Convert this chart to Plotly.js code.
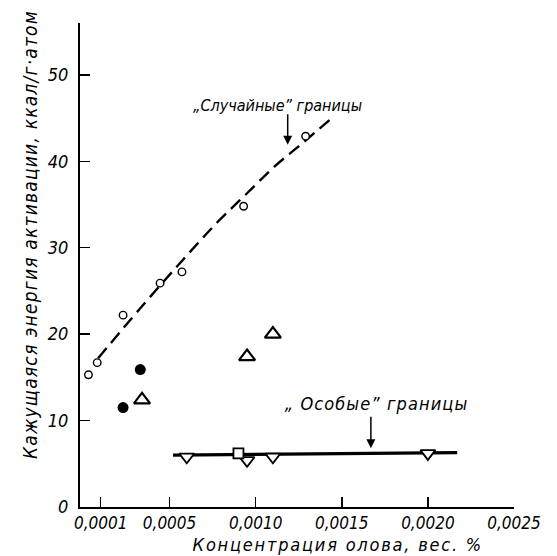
<!DOCTYPE html>
<html>
<head>
<meta charset="utf-8">
<script src="https://cdn.plot.ly/plotly-3.0.1.min.js"></script>
<style>
html,body{margin:0;padding:0;background:#fff;}
#chart{width:557px;height:556px;}
</style>
</head>
<body>
<div id="chart"></div>
<script>
// "Random" boundaries: open circles
const randX = [0.000029, 0.00008, 0.00023, 0.000445, 0.000572, 0.00093, 0.00129];
const randY = [15.3, 16.7, 22.2, 25.9, 27.2, 34.8, 42.9];
// dashed curve
const curveX = [0.000085, 0.00033, 0.00056, 0.00078, 0.00095, 0.00111, 0.00126, 0.00146];
const curveY = [17.2, 23.0, 28.2, 33.0, 36.3, 39.4, 41.9, 45.3];
// filled circles
const filledX = [0.00023, 0.00033];
const filledY = [11.5, 15.9];
// open up-triangles
const triUpX = [0.00034, 0.00095, 0.0011];
const triUpY = [12.4, 17.4, 20.0];
// "Special" boundaries: down-triangles
const triDnX = [0.00060, 0.00095, 0.0011, 0.0020];
const triDnY = [5.8, 5.4, 5.8, 6.2];
// square
const sqX = [0.00090];
const sqY = [6.2];
// solid line
const specLineX = [0.00052, 0.00217];
const specLineY = [6.0, 6.3];

const xTickVals = [0.0001, 0.0005, 0.0010, 0.0015, 0.0020, 0.0025];
const xTickText = ['0,0001', '0,0005', '0,0010', '0,0015', '0,0020', '0,0025'];
const yTickVals = [0, 10, 20, 30, 40, 50];

const FONT = 'DejaVu Sans Condensed, DejaVu Sans, sans-serif';

const traces = [
  {x: curveX, y: curveY, mode: 'lines', line: {color: '#000', width: 2.4, dash: '13px,7px', shape: 'spline', smoothing: 1}},
  {x: specLineX, y: specLineY, mode: 'lines', line: {color: '#000', width: 3.2}},
  {x: randX, y: randY, mode: 'markers', marker: {symbol: 'circle', size: 7.5, color: '#fff', line: {color: '#000', width: 1.4}}},
  {x: filledX, y: filledY, mode: 'markers', marker: {symbol: 'circle', size: 11, color: '#000'}},
  {x: triUpX, y: triUpY, mode: 'markers', marker: {symbol: 'triangle-up', size: 14, color: '#fff', line: {color: '#000', width: 2.2}}},
  {x: triDnX, y: triDnY, mode: 'markers', marker: {symbol: 'triangle-down', size: 13, color: '#fff', line: {color: '#000', width: 1.8}}},
  {x: sqX, y: sqY, mode: 'markers', marker: {symbol: 'square', size: 10, color: '#fff', line: {color: '#000', width: 1.8}}}
];

const layout = {
  width: 557, height: 556,
  margin: {l: 80, r: 43, t: 23, b: 49},
  paper_bgcolor: '#fff', plot_bgcolor: '#fff',
  showlegend: false,
  font: {family: FONT, color: '#000'},
  xaxis: {
    range: [-0.00002, 0.0025],
    tickvals: xTickVals, ticktext: xTickText,
    ticks: 'inside', ticklen: 10, tickwidth: 1.5, tickcolor: '#000',
    showline: true, linecolor: '#000', linewidth: 2,
    showgrid: false, zeroline: false,
    tickfont: {family: FONT, size: 17, style: 'italic', color: '#000'}
  },
  yaxis: {
    range: [0, 56],
    tickvals: yTickVals,
    ticks: 'inside', ticklen: 10, tickwidth: 1.5, tickcolor: '#000',
    showline: true, linecolor: '#000', linewidth: 2,
    showgrid: false, zeroline: false,
    ticklabelstandoff: 6,
    tickfont: {family: FONT, size: 18, style: 'italic', color: '#000'}
  },
  annotations: [
    {xref: 'paper', yref: 'paper', x: -0.115, y: 0.562, xanchor: 'center', yanchor: 'middle', textangle: -90, showarrow: false,
     text: 'Кажущаяся энергия активации, ккал/г·атом',
     font: {family: FONT, size: 19, style: 'italic', color: '#000'}},
    {xref: 'paper', yref: 'paper', x: 0.594, y: -0.0765, xanchor: 'center', yanchor: 'middle', showarrow: false,
     text: 'Концентрация олова, вес. %',
     font: {family: FONT, size: 18, style: 'italic', color: '#000'}},
    {x: 0.001128, y: 46.5, xanchor: 'center', yanchor: 'middle', showarrow: false,
     text: '„Случайные” границы',
     font: {family: FONT, size: 16, style: 'italic', color: '#000'}},
    {x: 0.001186, y: 41.9, ax: 0, ay: -32, showarrow: true, arrowhead: 2, arrowsize: 1.2, arrowwidth: 1.5, arrowcolor: '#000', text: ''},
    {x: 0.0017, y: 12.0, xanchor: 'center', yanchor: 'middle', showarrow: false,
     text: '„ Особые” границы',
     font: {family: FONT, size: 18, style: 'italic', color: '#000'}},
    {x: 0.001669, y: 6.8, ax: 0, ay: -33, showarrow: true, arrowhead: 2, arrowsize: 1.2, arrowwidth: 1.5, arrowcolor: '#000', text: ''}
  ]
};

Plotly.newPlot('chart', traces, layout, {staticPlot: true, displayModeBar: false}).then(function () {
  // widen letter spacing of the long labels as in the printed original
  const spacing = [1.2, 1.8, 0, 0, 1.1, 0];
  document.querySelectorAll('#chart .annotation-text').forEach(function (el, i) {
    if (spacing[i]) el.style.letterSpacing = spacing[i] + 'px';
  });
});
</script>
</body>
</html>
